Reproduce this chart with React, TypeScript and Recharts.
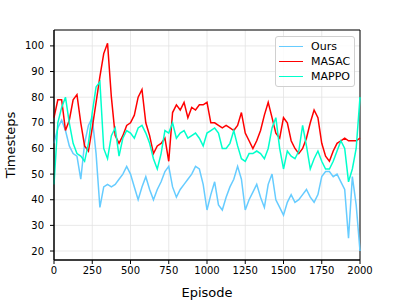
import { CartesianGrid, Line, LineChart, ReferenceArea, XAxis, YAxis } from 'recharts';

const episodes = [
  0, 25, 50, 75, 100, 125, 150, 175, 200, 225, 250, 275, 300, 325, 350, 375, 400, 425, 450, 475,
  500, 525, 550, 575, 600, 625, 650, 675, 700, 725, 750, 775, 800, 825, 850, 875, 900, 925, 950, 975,
  1000, 1025, 1050, 1075, 1100, 1125, 1150, 1175, 1200, 1225, 1250, 1275, 1300, 1325, 1350, 1375, 1400, 1425, 1450, 1475,
  1500, 1525, 1550, 1575, 1600, 1625, 1650, 1675, 1700, 1725, 1750, 1775, 1800, 1825, 1850, 1875, 1900, 1925, 1950, 1975,
  2000,
];

const ours = [
  62, 68, 71, 67, 61, 58, 57, 48, 62, 69, 72, 58, 37, 45, 46, 45, 46, 48, 50, 53,
  50, 45, 40, 45, 49, 44, 40, 44, 47, 51, 53, 45, 41, 44, 46, 48, 50, 53, 52, 46,
  36, 42, 47, 38, 36, 41, 45, 48, 53, 48, 36, 40, 43, 46, 41, 37, 46, 50, 40, 37,
  34, 39, 42, 39, 40, 42, 44, 41, 39, 42, 49, 51, 51, 49, 50, 47, 44, 25, 49, 38,
  20,
];

const masac = [
  72, 79, 79, 67, 71, 79, 81, 70, 61, 59, 68, 78, 88, 97, 101, 80, 65, 62, 65, 69,
  70, 73, 80, 83, 70, 65, 58, 61, 62, 64, 55, 74, 77, 75, 78, 72, 76, 75, 77, 77,
  78, 70, 70, 69, 68, 69, 68, 67, 69, 74, 66, 63, 60, 63, 67, 73, 78, 72, 66, 64,
  72, 70, 63, 60, 58, 60, 64, 70, 75, 72, 62, 57, 55, 59, 62, 63, 64, 63, 63, 63,
  64,
];

const mappo = [
  46, 70, 76, 80, 70, 62, 58, 57, 55, 62, 74, 84, 86, 60, 56, 65, 68, 57, 64, 67,
  66, 64, 68, 69, 66, 62, 56, 52, 58, 67, 66, 70, 64, 66, 67, 64, 65, 66, 64, 61,
  66, 67, 68, 66, 60, 60, 62, 67, 61, 56, 55, 58, 58, 59, 58, 56, 60, 68, 72, 60,
  52, 59, 57, 56, 59, 69, 61, 52, 56, 59, 55, 52, 52, 55, 59, 63, 60, 47, 52, 60,
  80,
];

const xTicks = [0, 250, 500, 750, 1000, 1250, 1500, 1750, 2000];
const yTicks = [20, 30, 40, 50, 60, 70, 80, 90, 100];

const series = [
  { key: 'ours', name: 'Ours', color: '#66ccff' },
  { key: 'masac', name: 'MASAC', color: '#ff0000' },
  { key: 'mappo', name: 'MAPPO', color: '#00ffcc' },
];

const data = episodes.map((episode, i) => ({
  episode,
  ours: ours[i],
  masac: masac[i],
  mappo: mappo[i],
}));

const font = 'DejaVu Sans, sans-serif';
const Y_MIN = 16.5;
const Y_MAX = 106.2;

// rotated y label, matplotlib-style placement at the far left
const YLabel = () => (
  <text
    x={10}
    y={145}
    transform="rotate(-90, 10, 145)"
    textAnchor="middle"
    dominantBaseline="central"
    fill="#000"
    fontSize={13}
    fontFamily={font}
  >
    Timesteps
  </text>
);

export default function App() {
  return (
    <div style={{ position: 'absolute', left: 0, top: 0, width: 400, height: 300, background: '#fff' }}>
      <LineChart width={400} height={300} data={data} margin={{ top: 30, right: 40, bottom: 0, left: 0 }}>
        <CartesianGrid stroke="#e3e3e3" strokeWidth={0.8} />
        <XAxis
          dataKey="episode"
          type="number"
          domain={[0, 2000]}
          ticks={xTicks}
          height={40}
          tick={{ fill: '#000', fontSize: 10, fontFamily: font }}
          tickSize={4}
          tickMargin={3}
          tickLine={{ stroke: '#000' }}
          axisLine={{ stroke: '#000' }}
          label={{ value: 'Episode', position: 'insideBottom', offset: 3, fill: '#000', fontSize: 13, fontFamily: font }}
        />
        <YAxis
          type="number"
          domain={[Y_MIN, Y_MAX]}
          ticks={yTicks}
          width={54}
          allowDataOverflow
          tick={{ fill: '#000', fontSize: 10, fontFamily: font }}
          tickSize={4}
          tickMargin={6}
          tickLine={{ stroke: '#000' }}
          axisLine={{ stroke: '#000' }}
          label={<YLabel />}
        />
        {series.map((s) => (
          <Line
            key={s.key}
            dataKey={s.key}
            name={s.name}
            stroke={s.color}
            strokeWidth={1.5}
            dot={false}
            isAnimationActive={false}
          />
        ))}
        <ReferenceArea x1={0} x2={2000} y1={Y_MIN} y2={Y_MAX} fill="none" stroke="#000" strokeWidth={1} />
      </LineChart>
      <div
        style={{
          position: 'absolute',
          left: 275,
          top: 36,
          width: 80,
          boxSizing: 'border-box',
          border: '1px solid #d0d0d0',
          borderRadius: 3,
          background: 'rgba(255,255,255,0.85)',
          padding: '2px 0 2px 3px',
          fontFamily: font,
          fontSize: 11,
          color: '#000',
        }}
      >
        {series.map((s) => (
          <div key={s.key} style={{ display: 'flex', alignItems: 'center', height: 15 }}>
            <span style={{ width: 24, height: 0, borderTop: `1.5px solid ${s.color}`, marginRight: 8 }} />
            <span>{s.name}</span>
          </div>
        ))}
      </div>
    </div>
  );
}
